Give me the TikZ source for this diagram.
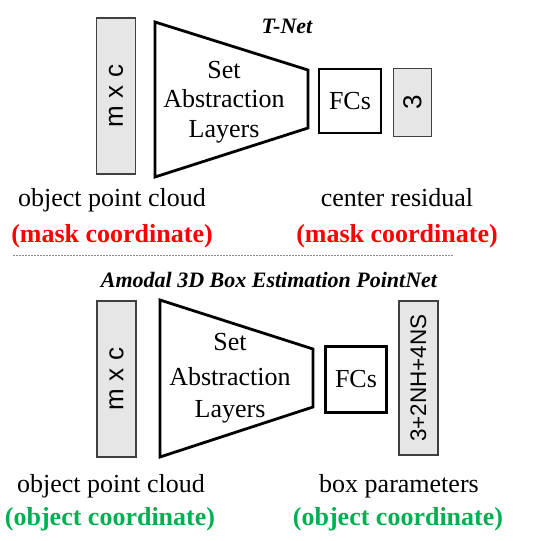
\documentclass[tikz,border=0pt]{standalone}
\usepackage{fontspec}
\setmainfont{Liberation Serif}
\setsansfont{Liberation Sans}
\definecolor{boxgray}{HTML}{E6E6E6}
\definecolor{boxedge}{HTML}{404040}
\definecolor{myred}{HTML}{FF0000}
\definecolor{mygreen}{HTML}{00B050}
\begin{document}
\begin{tikzpicture}[x=1pt,y=-1pt,
  graybox/.style={draw=boxedge,fill=boxgray,line width=1.3pt,inner sep=0pt,font=\sffamily\fontsize{26}{30}\selectfont},
  fcbox/.style={draw=black,line width=2.8pt,inner sep=0pt,font=\fontsize{26}{30}\selectfont},
  trap/.style={draw=black,line width=2.8pt,line join=miter},
  big/.style={font=\fontsize{26}{30}\selectfont,anchor=base,inner sep=0pt},
  head/.style={font=\bfseries\itshape\fontsize{22}{26}\selectfont,anchor=base,inner sep=0pt},
  redlab/.style={font=\bfseries\fontsize{26}{30}\selectfont,text=myred,anchor=base,inner sep=0pt},
  greenlab/.style={font=\bfseries\fontsize{26}{30}\selectfont,text=mygreen,anchor=base,inner sep=0pt}]
\useasboundingbox (0,0) rectangle (552,541);
% ---- top: T-Net
\node[graybox,minimum width=39pt,minimum height=156pt] (in1) at (116,96) {\rotatebox{90}{m x c}};
\draw[trap] (155,22) -- (308,70) -- (308,128) -- (155,177) -- cycle;
\node[big] (sa1a) at (224,78) {Set};
\node[big] (sa1b) at (224,107) {Abstraction};
\node[big] (sa1c) at (224,137) {Layers};
\node[fcbox,minimum width=62pt,minimum height=64pt] (fc1) at (350,101) {FCs};
\node[graybox,minimum width=38pt,minimum height=68pt] (out1) at (412.5,102.5) {\rotatebox{90}{3}};
\node[head] (tnet) at (287,33) {T-Net};
\node[big] (l1a) at (112,206) {object point cloud};
\node[redlab] (l1b) at (112,242) {(mask coordinate)};
\node[big] (l1c) at (397,206) {center residual};
\node[redlab] (l1d) at (397,242) {(mask coordinate)};
% ---- separator
\coordinate (sepL) at (13,255);
\coordinate (sepR) at (453,255);
\draw[black!45,line width=0.8pt,dash pattern=on 2pt off 1pt] (sepL) -- (sepR);
% ---- bottom: Amodal box estimation
\node[head] (amodal) at (269,287) {Amodal 3D Box Estimation PointNet};
\node[graybox,minimum width=39pt,minimum height=156pt] (in2) at (116.5,379) {\rotatebox{90}{m x c}};
\draw[trap] (160,300) -- (313,349) -- (313,407) -- (160,457) -- cycle;
\node[big] (sa2a) at (230,350) {Set};
\node[big] (sa2b) at (230,385) {Abstraction};
\node[big] (sa2c) at (230,417) {Layers};
\node[fcbox,minimum width=61pt,minimum height=66pt] (fc2) at (356,379.5) {FCs};
\node[graybox,minimum width=39pt,minimum height=154pt,font=\sffamily\fontsize{22.5}{26}\selectfont] (out2) at (418.5,378) {\rotatebox{90}{3+2NH+4NS}};
\node[big] (l2a) at (111,492) {object point cloud};
\node[greenlab] (l2b) at (110,525) {(object coordinate)};
\node[big] (l2c) at (399,492) {box parameters};
\node[greenlab] (l2d) at (398,525) {(object coordinate)};
\end{tikzpicture}
\end{document}
